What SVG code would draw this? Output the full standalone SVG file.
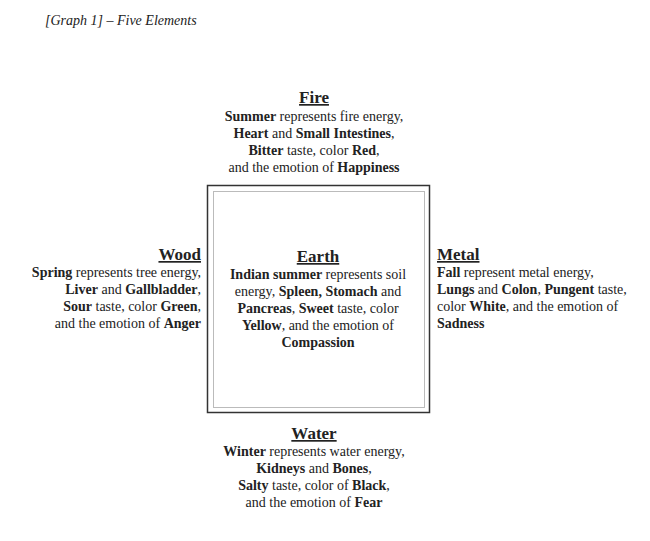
<svg xmlns="http://www.w3.org/2000/svg" width="650" height="541" viewBox="0 0 650 541">
<style>
text{font-family:"Liberation Serif","Times New Roman",serif;font-size:14px;fill:#222}
.h{font-size:17px;font-weight:bold;text-decoration:underline}
.c{text-anchor:middle}.r{text-anchor:end}
tspan.b{font-weight:bold}
</style>
<rect width="650" height="541" fill="#fff"/>
<text x="45" y="25" font-style="italic">[Graph 1] – Five Elements</text>
<g id="earth">
<rect x="207.5" y="185.5" width="222" height="227" fill="#fff" stroke="#333" stroke-width="1.5"/>
<rect x="213.5" y="191.5" width="211" height="216" fill="none" stroke="#bbb" stroke-width="1"/>
<text class="h c" x="318" y="262">Earth</text>
<text class="c" x="318" y="279"><tspan class="b">Indian summer</tspan> represents soil</text>
<text class="c" x="318" y="296">energy, <tspan class="b">Spleen, Stomach</tspan> and</text>
<text class="c" x="318" y="313"><tspan class="b">Pancreas</tspan>, <tspan class="b">Sweet</tspan> taste, color</text>
<text class="c" x="318" y="330"><tspan class="b">Yellow</tspan>, and the emotion of</text>
<text class="c" x="318" y="347"><tspan class="b">Compassion</tspan></text>
</g>
<g id="fire">
<text class="h c" x="314" y="103">Fire</text>
<text class="c" x="314" y="121"><tspan class="b">Summer</tspan> represents fire energy,</text>
<text class="c" x="314" y="138"><tspan class="b">Heart</tspan> and <tspan class="b">Small Intestines</tspan>,</text>
<text class="c" x="314" y="155"><tspan class="b">Bitter</tspan> taste, color <tspan class="b">Red</tspan>,</text>
<text class="c" x="314" y="172">and the emotion of <tspan class="b">Happiness</tspan></text>
</g>
<g id="wood">
<text class="h r" x="201" y="260">Wood</text>
<text class="r" x="201" y="277"><tspan class="b">Spring</tspan> represents tree energy,</text>
<text class="r" x="201" y="294"><tspan class="b">Liver</tspan>  and  <tspan class="b">Gallbladder</tspan>,</text>
<text class="r" x="201" y="311"><tspan class="b">Sour</tspan> taste, color <tspan class="b">Green</tspan>,</text>
<text class="r" x="201" y="328">and the emotion of <tspan class="b">Anger</tspan></text>
</g>
<g id="metal">
<text class="h" x="437" y="260">Metal</text>
<text x="437" y="277"><tspan class="b">Fall</tspan> represent metal energy,</text>
<text x="437" y="294"><tspan class="b">Lungs</tspan> and <tspan class="b">Colon</tspan>, <tspan class="b">Pungent</tspan> taste,</text>
<text x="437" y="311">color <tspan class="b">White</tspan>, and the emotion of</text>
<text x="437" y="328"><tspan class="b">Sadness</tspan></text>
</g>
<g id="water">
<text class="h c" x="314" y="439">Water</text>
<text class="c" x="314" y="456"><tspan class="b">Winter</tspan> represents water energy,</text>
<text class="c" x="314" y="473"><tspan class="b">Kidneys</tspan> and <tspan class="b">Bones</tspan>,</text>
<text class="c" x="314" y="490"><tspan class="b">Salty</tspan> taste, color of <tspan class="b">Black</tspan>,</text>
<text class="c" x="314" y="507">and the emotion of <tspan class="b">Fear</tspan></text>
</g>
<g id="connectors"></g>
</svg>
